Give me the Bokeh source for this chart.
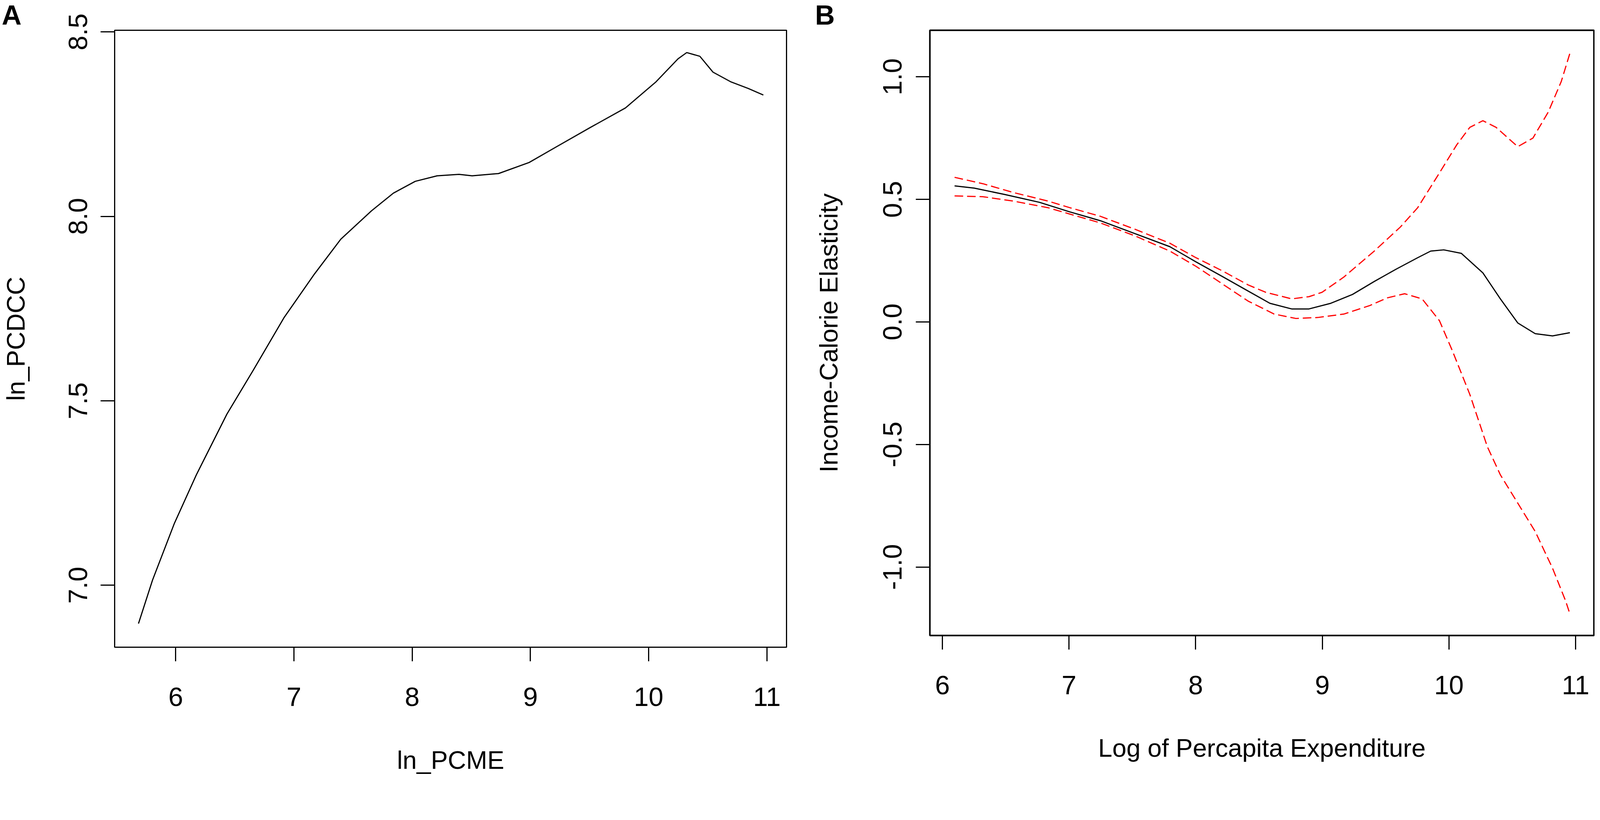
from bokeh.plotting import figure
from bokeh.layouts import row
from bokeh.models import Range1d, FixedTicker, Title
from bokeh.embed import file_html
from bokeh.resources import INLINE

# ---------------- Panel A data ----------------
a_x = [5.685, 5.804, 5.989, 6.174, 6.433, 6.656, 6.915, 7.174, 7.396, 7.656,
       7.841, 8.026, 8.211, 8.396, 8.507, 8.730, 8.989, 9.211, 9.507, 9.804,
       10.063, 10.248, 10.322, 10.433, 10.544, 10.693, 10.841, 10.970]
a_y = [6.896, 7.014, 7.168, 7.299, 7.464, 7.583, 7.725, 7.844, 7.938, 8.015,
       8.063, 8.095, 8.110, 8.114, 8.110, 8.116, 8.146, 8.187, 8.241, 8.294,
       8.365, 8.427, 8.444, 8.434, 8.391, 8.365, 8.347, 8.329]
a_xticks = [6, 7, 8, 9, 10, 11]
a_yticks = [7.0, 7.5, 8.0, 8.5]
a_ytick_labels = ["7.0", "7.5", "8.0", "8.5"]

# ---------------- Panel B data ----------------
b_fit_x = [6.096, 6.251, 6.491, 6.766, 7.006, 7.247, 7.521, 7.796, 8.002, 8.208,
           8.414, 8.586, 8.758, 8.895, 9.067, 9.238, 9.410, 9.582, 9.753, 9.856,
           9.959, 10.097, 10.268, 10.406, 10.543, 10.681, 10.818, 10.955]
b_fit_y = [0.555, 0.546, 0.520, 0.488, 0.449, 0.413, 0.360, 0.307, 0.245, 0.186,
           0.126, 0.076, 0.053, 0.053, 0.076, 0.112, 0.165, 0.215, 0.262, 0.289,
           0.294, 0.280, 0.200, 0.094, -0.004, -0.048, -0.057, -0.044]

b_up_x = [6.096, 6.319, 6.560, 6.834, 7.006, 7.247, 7.521, 7.796, 8.002, 8.208,
          8.414, 8.552, 8.758, 8.895, 8.998, 9.170, 9.410, 9.616, 9.753, 9.925,
          10.062, 10.165, 10.268, 10.372, 10.543, 10.663, 10.784, 10.887, 10.955]
b_up_y = [0.590, 0.564, 0.528, 0.493, 0.466, 0.431, 0.378, 0.321, 0.262, 0.209,
          0.151, 0.121, 0.094, 0.103, 0.121, 0.183, 0.289, 0.387, 0.466, 0.608,
          0.723, 0.794, 0.821, 0.794, 0.715, 0.750, 0.856, 0.981, 1.096]

b_lo_x = [6.096, 6.319, 6.560, 6.834, 7.006, 7.247, 7.521, 7.796, 8.002, 8.208,
          8.414, 8.620, 8.792, 8.964, 9.170, 9.376, 9.513, 9.650, 9.788, 9.925,
          10.028, 10.165, 10.303, 10.406, 10.543, 10.681, 10.818, 10.921, 10.955]
b_lo_y = [0.514, 0.511, 0.493, 0.466, 0.440, 0.404, 0.351, 0.289, 0.227, 0.156,
          0.085, 0.032, 0.014, 0.018, 0.032, 0.067, 0.098, 0.115, 0.094, 0.005,
          -0.119, -0.296, -0.509, -0.624, -0.739, -0.855, -1.005, -1.138, -1.191]

b_xticks = [6, 7, 8, 9, 10, 11]
b_yticks = [-1.0, -0.5, 0.0, 0.5, 1.0]
b_ytick_labels = ["-1.0", "-0.5", "0.0", "0.5", "1.0"]

FONT = "Liberation Sans"
S = 0.95  # overall pixel scale of the layout


def px(v):
    return int(round(v * S))


def fs(v):
    return "%dpx" % px(v)


def style(p, xticks, yticks, ylabels, xlabel, ylabel, outline_w):
    p.grid.visible = False
    p.background_fill_color = "white"
    p.border_fill_color = "white"
    p.outline_line_color = "black"
    p.outline_line_width = outline_w
    p.outline_line_alpha = 1.0
    p.xaxis.ticker = FixedTicker(ticks=xticks)
    p.yaxis.ticker = FixedTicker(ticks=yticks)
    p.yaxis.major_label_overrides = {t: s for t, s in zip(yticks, ylabels)}
    p.xaxis.major_label_overrides = {t: str(t) for t in xticks}
    for ax in (p.xaxis[0], p.yaxis[0]):
        ax.axis_line_color = None
        ax.major_tick_in = 0
        ax.major_tick_out = px(38)
        ax.major_tick_line_width = 3
        ax.major_tick_line_color = "black"
        ax.minor_tick_line_color = None
        ax.major_label_text_font = FONT
        ax.major_label_text_font_size = fs(72)
        ax.major_label_text_color = "black"
        ax.axis_label_text_font = FONT
        ax.axis_label_text_font_size = fs(68)
        ax.axis_label_text_font_style = "normal"
        ax.axis_label_text_color = "black"
    p.xaxis.axis_label = xlabel
    p.yaxis.axis_label = ylabel
    p.yaxis.major_label_orientation = "vertical"


def panel_letter(text, offset):
    return Title(text=text, align="left", vertical_align="bottom",
                 offset=px(offset), standoff=0,
                 text_font=FONT, text_font_size="70px",
                 text_font_style="bold", text_color="black")


# ---------------- Figure A ----------------
pA = figure(frame_width=px(1810), frame_height=px(1663),
            min_border_left=px(338), min_border_right=px(34),
            min_border_top=83, min_border_bottom=px(341),
            x_range=Range1d(5.4835, 11.166), y_range=Range1d(6.832, 8.5045),
            output_backend="svg", toolbar_location=None)
style(pA, a_xticks, a_yticks, a_ytick_labels, "ln_PCME", "ln_PCDCC", 3)
pA.title = panel_letter("A", -304)
pA.xaxis.major_label_standoff = px(71)
pA.xaxis.axis_label_standoff = px(104)
pA.yaxis.major_label_standoff = px(36)
pA.yaxis.axis_label_standoff = px(102)
pA.line(a_x, a_y, line_color="black", line_width=3)

# ---------------- Figure B ----------------
pB = figure(frame_width=px(1789), frame_height=px(1632),
            min_border_left=px(353), min_border_right=px(2),
            min_border_top=82, min_border_bottom=px(373),
            x_range=Range1d(5.901, 11.145), y_range=Range1d(-1.2795, 1.19),
            output_backend="svg", toolbar_location=None)
style(pB, b_xticks, b_yticks, b_ytick_labels,
      "Log of Percapita Expenditure", "Income-Calorie Elasticity", 4)
pB.title = panel_letter("B", -309)
pB.xaxis.major_label_standoff = px(71)
pB.xaxis.axis_label_standoff = px(103)
pB.yaxis.major_label_standoff = px(38)
pB.yaxis.axis_label_standoff = px(106)
pB.line(b_up_x, b_up_y, line_color="#FF0000", line_width=3, line_dash="22 10")
pB.line(b_lo_x, b_lo_y, line_color="#FF0000", line_width=3, line_dash="22 10")
pB.line(b_fit_x, b_fit_y, line_color="black", line_width=3)

layout = row(pA, pB, margin=(-6, 0, 0, px(-30)))
open("out.html", "w").write(file_html(layout, INLINE))
